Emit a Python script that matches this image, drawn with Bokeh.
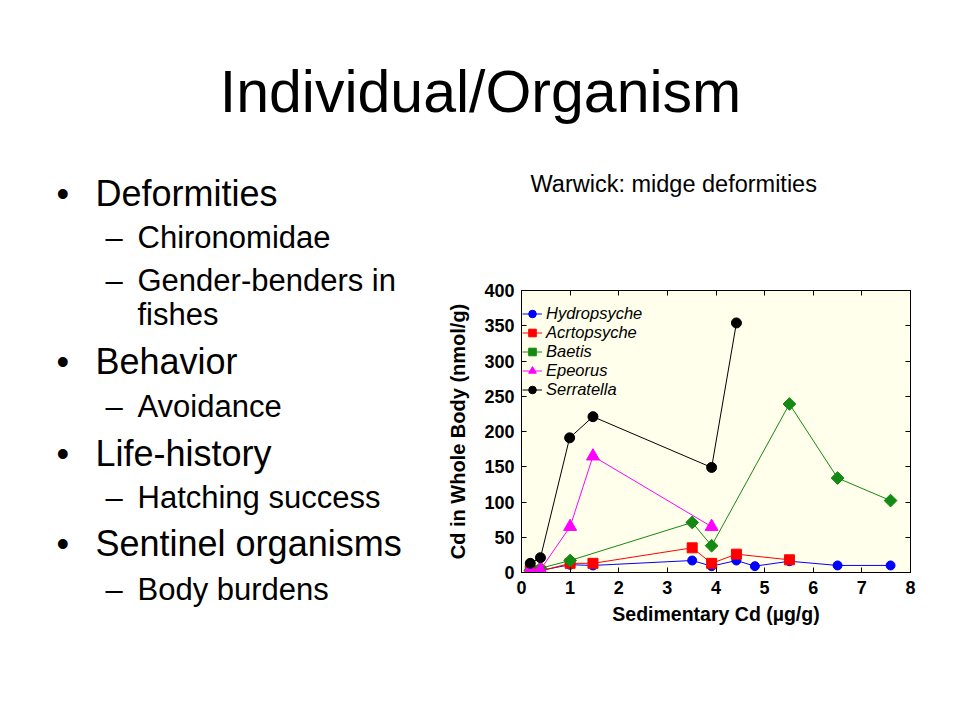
import math
from bokeh.plotting import figure
from bokeh.models import Range1d, LinearAxis, Label, Legend, LegendItem, FixedTicker
from bokeh.layouts import column, row
from bokeh.embed import file_html
from bokeh.resources import INLINE

# ---------------- data ----------------
hydro_x = [0.18, 0.39, 1.0, 1.47, 3.51, 3.91, 4.42, 4.8, 5.51, 6.5, 7.59]
hydro_y = [2, 3, 11, 10, 17, 9, 17, 9, 16, 10, 10]

acrto_x = [0.18, 0.39, 1.0, 1.47, 3.51, 3.91, 4.42, 5.51]
acrto_y = [3, 2, 13, 13, 35, 13, 26, 18]

baetis_x = [0.18, 0.39, 1.0, 3.51, 3.91, 5.51, 6.5, 7.59]
baetis_y = [3, 6, 17, 71, 38, 239, 134, 102]

epeorus_x = [0.18, 0.39, 1.0, 1.47, 3.91]
epeorus_y = [4, 4, 65, 165, 65]

serr_x = [0.18, 0.39, 0.99, 1.47, 3.91, 4.42]
serr_y = [13, 21, 191, 221, 149, 354]

series_names = ["Hydropsyche", "Acrtopsyche", "Baetis", "Epeorus", "Serratella"]
x_ticks = [0, 1, 2, 3, 4, 5, 6, 7, 8]
y_ticks = [0, 50, 100, 150, 200, 250, 300, 350, 400]

title_text = "Individual/Organism"
caption_text = "Warwick: midge deformities"
bullets = ["Deformities", "Behavior", "Life-history", "Sentinel organisms"]
subitems = ["Chironomidae", "Gender-benders in", "fishes", "Avoidance",
            "Hatching success", "Body burdens"]

# ---------------- layout (page px) ----------------
W, H = 944, 704
TOP_H = 150          # title strip
SPLIT_X = 440        # left text column / right chart column
CAP_H = 60           # caption strip above the chart
FX0, FX1 = 521, 910  # chart frame left/right on page
FY0, FY1 = 290, 572  # chart frame top/bottom on page
FONT = "Liberation Sans"


def text_fig(w, h, x0, x1, y0, y1, bl=0, br=0):
    f = figure(width=w, height=h, output_backend="svg", toolbar_location=None,
               x_range=Range1d(x0, x1), y_range=Range1d(y1, y0),
               x_axis_location=None, y_axis_location=None,
               min_border=0, min_border_left=bl, min_border_right=br,
               min_border_top=0, min_border_bottom=0)
    f.grid.visible = False
    f.outline_line_color = None
    f.background_fill_color = "white"
    f.border_fill_color = "white"
    return f


def lab(f, text, px, base, size, align="left"):
    # base = page y of the text baseline
    f.add_layout(Label(x=px, y=base - 0.36 * size, text=text, text_font=FONT,
                       text_font_size=f"{size}px", text_align=align,
                       text_baseline="middle", text_color="black"))


# title strip
top = text_fig(W, TOP_H, 0, W, 0, TOP_H)
lab(top, title_text, 480, 113, 59, "center")

# left bullets
left = text_fig(SPLIT_X, H - TOP_H, 0, SPLIT_X, TOP_H, H)
bullet_y = [206, 374, 466, 556]
for t, y in zip(bullets, bullet_y):
    lab(left, "•", 56, y, 36)
    lab(left, t, 95, y, 36)
sub_y = [248, 291, 325, 417, 508, 600]
for t, y in zip(subitems, sub_y):
    if t != "fishes":
        lab(left, "–", 105, y, 31)
    lab(left, t, 137, y, 31)

# caption strip (frame aligned with the chart frame below it)
cap = text_fig(W - SPLIT_X, CAP_H, FX0, FX1, TOP_H, TOP_H + CAP_H,
               bl=FX0 - SPLIT_X, br=W - FX1)
lab(cap, caption_text, 530, 192, 23.5)

# ---------------- chart ----------------
CH_TOP = TOP_H + CAP_H
p = figure(width=W - SPLIT_X, height=H - CH_TOP, output_backend="svg",
           toolbar_location=None,
           x_range=Range1d(0, 8), y_range=Range1d(0, 400),
           min_border_left=FX0 - SPLIT_X, min_border_right=W - FX1,
           min_border_top=FY0 - CH_TOP, min_border_bottom=H - FY1)
p.background_fill_color = "#FFFFEB"
p.border_fill_color = "white"
p.outline_line_color = "black"
p.grid.visible = False

for ax in (p.xaxis[0], p.yaxis[0]):
    ax.major_tick_in = 5
    ax.major_tick_out = 0
    ax.minor_tick_line_color = None
    ax.axis_line_color = "black"
    ax.major_tick_line_color = "black"
    ax.major_label_text_font = FONT
    ax.major_label_text_font_size = "18px"
    ax.major_label_text_font_style = "bold"
    ax.major_label_text_color = "black"
    ax.axis_label_text_font = FONT
    ax.axis_label_text_font_style = "bold"
    ax.axis_label_text_color = "black"
p.xaxis.axis_label_text_font_size = "19.5px"
p.yaxis.axis_label_text_font_size = "20px"
p.xaxis.ticker = FixedTicker(ticks=x_ticks)
p.yaxis.ticker = FixedTicker(ticks=y_ticks)
p.xaxis.axis_label = "Sedimentary Cd (µg/g)"
p.yaxis.axis_label = "Cd in Whole Body (nmol/g)"
p.xaxis.major_label_standoff = 8
p.yaxis.major_label_standoff = 7
p.xaxis.axis_label_standoff = 6
p.yaxis.axis_label_standoff = 12

# tick marks on right and top (no labels)
for loc, tk in (("right", y_ticks), ("above", x_ticks)):
    a = LinearAxis(ticker=FixedTicker(ticks=tk), major_tick_in=5, major_tick_out=0,
                   minor_tick_line_color=None, axis_line_color="black",
                   major_label_overrides={t: "" for t in tk},
                   major_label_text_font_size="1px", major_label_standoff=0)
    p.add_layout(a, loc)

specs = [
    (hydro_x, hydro_y, "#0000FF", "circle", 9, 0),
    (acrto_x, acrto_y, "#FF0000", "square", 10, 0),
    (baetis_x, baetis_y, "#138A13", "square", 9, math.pi / 4),
    (epeorus_x, epeorus_y, "#FF00FF", "triangle", 13, 0),
    (serr_x, serr_y, "black", "circle", 10, 0),
]
items = []
for (xs, ys, col, mk, sz, ang), name in zip(specs, series_names):
    ln = p.line(xs, ys, line_color=col, line_width=1)
    sc = p.scatter(xs, ys, marker=mk, size=sz, angle=ang,
                   fill_color=col, line_color=col)
    items.append(LegendItem(label=name, renderers=[ln, sc]))

FH = FY1 - FY0
legend = Legend(items=items, location=(1, FH - 14 - 5 * 19),
                glyph_width=20, glyph_height=19, label_height=19, spacing=0,
                padding=0, margin=0, label_standoff=4,
                label_text_font=FONT, label_text_font_style="italic",
                label_text_font_size="16.5px", label_text_color="black",
                border_line_color=None, background_fill_alpha=0)
p.add_layout(legend, "center")

layout = column(top, row(left, column(cap, p)))
open("out.html", "w").write(file_html(layout, INLINE))
